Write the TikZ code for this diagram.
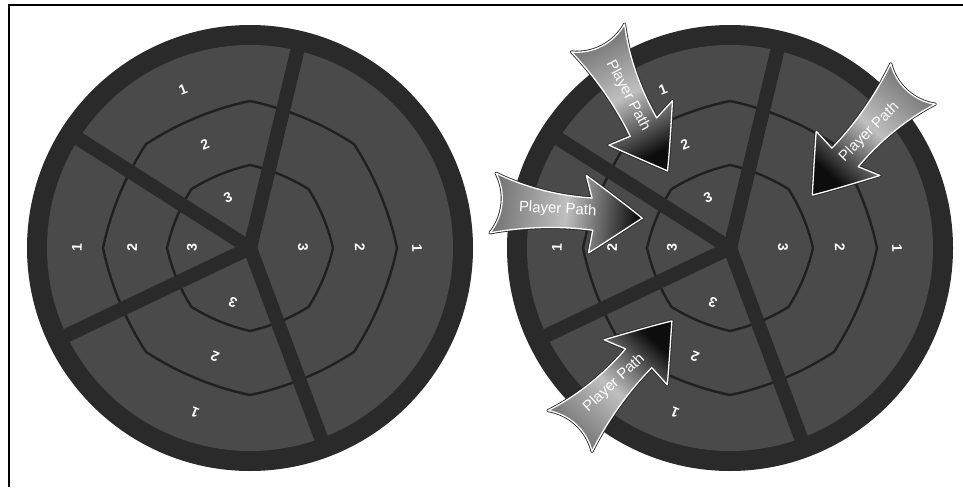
\documentclass[tikz,border=0pt]{standalone}
\usepackage{fontspec}
\setmainfont{Liberation Sans}
\definecolor{ringc}{HTML}{2A2A2A}
\definecolor{sectc}{HTML}{4A4A4A}
\definecolor{linec}{HTML}{202020}
\begin{document}
\begin{tikzpicture}[x=1pt,y=-1pt,
  framebar/.style={draw=black,line width=2.2pt},
  outerring/.style={fill=ringc},
  sectorbg/.style={fill=sectc},
  zoneline/.style={draw=linec,line width=2.4pt,line join=round},
  spokebar/.style={draw=ringc,line width=14pt,line cap=round},
  lbl/.style={text=white,font=\fontsize{14}{16}\selectfont\bfseries,inner sep=0pt},
  ptext/.style={text=white,font=\fontsize{15}{17}\selectfont,inner sep=0pt},
  pics/wheel/.style={code={
    \fill[outerring] (0,0) circle (223);
    \fill[sectorbg] (0,0) circle (203);
    \draw[zoneline] (0:147) \foreach \a in {0,45,...,315}{ .. controls (\a+15:144) and (\a+30:144) .. (\a+45:147)} -- cycle;
    \draw[zoneline] (0:83) \foreach \a in {0,45,...,315}{ .. controls (\a+15:81) and (\a+30:81) .. (\a+45:83)} -- cycle;
    \draw[spokebar] (0,0) -- (-76.5:212);
    \draw[spokebar] (0,0) -- (-147.5:212);
    \draw[spokebar] (0,0) -- (154.5:212);
    \draw[spokebar] (0,0) -- (69.5:212);
    \node[lbl,rotate=22] (-t1) at (-67,-158) {1};
    \node[lbl,rotate=22] (-t2) at (-45,-103) {2};
    \node[lbl,rotate=22] (-t3) at (-22,-50) {3};
    \node[lbl,rotate=88] (-l1) at (-173,-1) {1};
    \node[lbl,rotate=88] (-l2) at (-118,-1) {2};
    \node[lbl,rotate=88] (-l3) at (-58,-1) {3};
    \node[lbl,rotate=-88] (-r3) at (53,-1) {3};
    \node[lbl,rotate=-88] (-r2) at (110,-1) {2};
    \node[lbl,rotate=-88] (-r1) at (167,0) {1};
    \node[lbl,rotate=158] (-b3) at (-17,54) {3};
    \node[lbl,rotate=158] (-b2) at (-35,109) {2};
    \node[lbl,rotate=158] (-b1) at (-55,165) {1};
  }},
  pics/playerarrow/.style 2 args={code={
    \path[preaction={draw=black!85,line width=3pt,line join=round},
          left color=black!55, right color=black!95, middle color=black!25, shading angle=#1,
          draw=white, line width=1.3pt, line join=round]
      (0,-30) .. controls (35,-17) and (70,-14) .. (98,-15)
      -- (90,-37)
      .. controls (115,-22) and (135,-10) .. (150,0)
      .. controls (135,12) and (118,26) .. (100,40)
      -- (102,17)
      .. controls (70,16) and (35,20) .. (0,30)
      .. controls (12,12) and (12,-12) .. (0,-30) -- cycle;
    \node[ptext,rotate=#2] (-txt) at (65,0) {Player Path};
  }}
]
\useasboundingbox (0,0) rectangle (963,487);
\draw[framebar] (963,5) -- (9,5) -- (9,487);
\pic (L) at (250,248) {wheel};
\pic (R) at (730,248) {wheel};
\pic[rotate=-62.4] (A1) at (598,38) {playerarrow={27.6}{-62}};
\pic[rotate=-5.8] (A2) at (493,203) {playerarrow={84.2}{-3}};
\pic[rotate=-132.2] (A3) at (913,84) {playerarrow={-42.2}{45}};
\pic[rotate=47.2] (A4) at (570,431) {playerarrow={137.2}{43}};
\end{tikzpicture}
\end{document}
